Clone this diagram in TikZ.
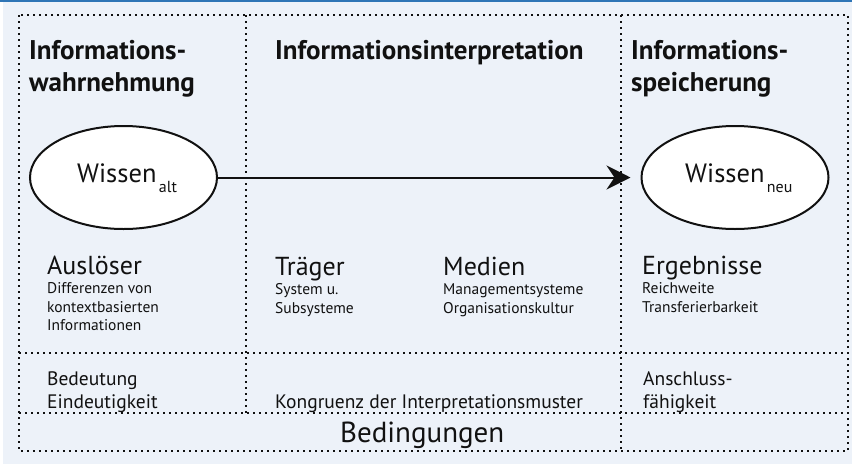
\documentclass[tikz,border=0pt]{standalone}
\usepackage{fontspec}
\setmainfont{PT Sans}
\usetikzlibrary{shapes.geometric,arrows.meta}
\definecolor{bgblue}{HTML}{EDF2F9}
\definecolor{topblue}{HTML}{2E75B6}
\definecolor{ink}{HTML}{111111}
\begin{document}
\begin{tikzpicture}[x=1pt,y=-1pt,
  dotline/.style={line width=2pt,dash pattern=on 2pt off 4pt,draw=ink},
  head/.style={anchor=base west,inner sep=0pt,font=\fontsize{27}{27}\selectfont\bfseries,text=ink},
  big/.style={anchor=base west,inner sep=0pt,font=\fontsize{26}{26}\selectfont,text=ink},
  small/.style={anchor=base west,inner sep=0pt,font=\fontsize{15.5}{15.5}\selectfont,text=ink},
  mid/.style={anchor=base west,inner sep=0pt,font=\fontsize{19.5}{19.5}\selectfont,text=ink},
  wissen/.style={anchor=base west,inner sep=0pt,font=\fontsize{26.5}{26.5}\selectfont,text=ink},
  sub/.style={anchor=base west,inner sep=0pt,font=\fontsize{16}{16}\selectfont,text=ink},
  oval/.style={ellipse,draw=ink,fill=white,line width=2pt,minimum width=187pt,minimum height=103pt,inner sep=0pt}]
\useasboundingbox (0,0) rectangle (852,464);
\fill[white] (0,0) rectangle (852,464);
\fill[bgblue] (3,0) rectangle (852,464);
\fill[topblue] (0,0) rectangle (852,1.5);
% dotted frame
\draw[dotline] (19,15) rectangle (848,451);
\draw[dotline] (246,15) -- (246,413);
\draw[dotline] (621,15) -- (621,451);
\draw[dotline] (19,353) -- (848,353);
\draw[dotline] (19,413) -- (848,413);
% headings
\node[head] (h1a) at (29,59) {Informations-};
\node[head] (h1b) at (29,91) {wahrnehmung};
\node[head] (h2) at (275,59) {Informationsinterpretation};
\node[head] (h3a) at (631,59) {Informations-};
\node[head] (h3b) at (631,91) {speicherung};
% ellipses
\node[oval] (alt) at (123.5,177.5) {};
\node[oval] (neu) at (735,177.5) {};
\node[wissen] (walt) at (77,182) {Wissen};
\node[sub] (salt) at ([xshift=2pt,yshift=-10pt]walt.base east) {alt};
\node[wissen] (wneu) at (685,182) {Wissen};
\node[sub] (sneu) at ([xshift=2pt,yshift=-10pt]wneu.base east) {neu};
\draw[line width=2pt,draw=ink,-{Stealth[length=24pt,width=24pt,inset=8pt]},shorten >=10pt] (alt.east) -- (neu.west);
% column texts
\node[big] (ausl) at (47,274) {Auslöser};
\node[small] (a1) at (47,293) {Differenzen von};
\node[small] (a2) at (47,312) {kontextbasierten};
\node[small] (a3) at (47,330) {Informationen};
\node[big] (trae) at (275,275) {Träger};
\node[small] (t1) at (275,294) {System u.};
\node[small] (t2) at (275,313) {Subsysteme};
\node[big] (med) at (443,275) {Medien};
\node[small] (m1) at (443,294) {Managementsysteme};
\node[small] (m2) at (443,313) {Organisationskultur};
\node[big] (erg) at (642,274) {Ergebnisse};
\node[small] (e1) at (642,293) {Reichweite};
\node[small] (e2) at (642,312) {Transferierbarkeit};
% conditions
\node[mid] (b1) at (47,385) {Bedeutung};
\node[mid] (b2) at (47,408) {Eindeutigkeit};
\node[mid] (k1) at (275,408) {Kongruenz der Interpretationsmuster};
\node[mid] (c1) at (643,385) {Anschluss-};
\node[mid] (c2) at (643,408) {fähigkeit};
\node[anchor=base west,inner sep=0pt,font=\fontsize{29}{29}\selectfont,text=ink] (bed) at (340,442) {Bedingungen};
\end{tikzpicture}
\end{document}
